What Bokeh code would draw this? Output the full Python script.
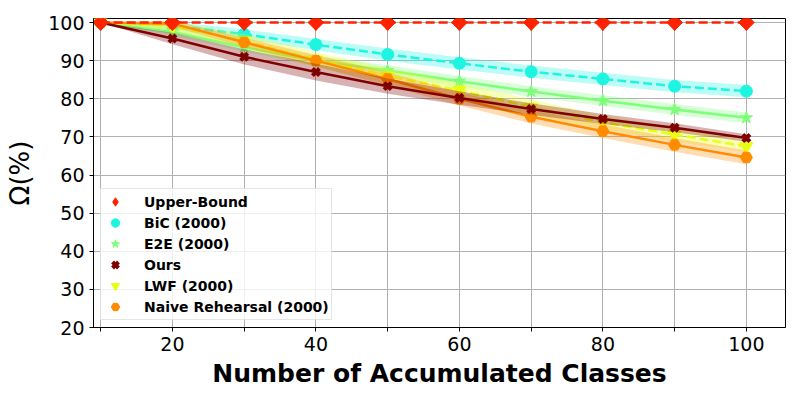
import math
from bokeh.plotting import figure
from bokeh.embed import file_html
from bokeh.resources import INLINE
from bokeh.models import Legend, LegendItem, FixedTicker, Range1d

classes = [10, 20, 30, 40, 50, 60, 70, 80, 90, 100]

upper = [100, 100, 100, 100, 100, 100, 100, 100, 100, 100]
bic = [100, 99.2, 96.9, 94.2, 91.6, 89.3, 87.1, 85.2, 83.3, 82.0]
e2e = [100, 97.5, 93.5, 90.0, 87.4, 84.6, 81.9, 79.5, 77.2, 75.0]
ours = [100, 95.8, 91.0, 87.0, 83.3, 80.2, 77.3, 74.7, 72.4, 69.7]
lwf = [100, 99.0, 95.2, 90.2, 86.0, 82.2, 77.8, 73.8, 70.6, 67.5]
naive = [100, 99.7, 94.8, 90.0, 85.2, 80.0, 75.3, 71.5, 67.9, 64.6]

bic_std = [0, 1.0, 1.3, 1.5, 1.6, 1.6, 1.6, 1.6, 1.6, 1.6]
e2e_std = [0, 1.0, 1.2, 1.3, 1.4, 1.4, 1.4, 1.4, 1.4, 1.4]
ours_std = [0, 1.5, 2.0, 2.2, 2.0, 1.8, 1.5, 1.3, 1.2, 1.0]
lwf_std = [0, 1.2, 1.8, 2.0, 2.0, 2.0, 2.0, 1.8, 1.8, 1.5]
naive_std = [0, 0.8, 1.2, 1.5, 1.8, 1.8, 1.8, 1.8, 1.8, 1.8]
upper_std = [0] * 10

labels = ["Upper-Bound", "BiC (2000)", "E2E (2000)", "Ours", "LWF (2000)", "Naive Rehearsal (2000)"]
x_ticks = [10, 20, 30, 40, 50, 60, 70, 80, 90, 100]
x_tick_labels = ["", "20", "", "40", "", "60", "", "80", "", "100"]
y_ticks = [20, 30, 40, 50, 60, 70, 80, 90, 100]

FONT = "DejaVu Sans"

p = figure(width=800, height=400, output_backend="svg", toolbar_location=None,
           x_range=Range1d(9.0, 105.45), y_range=Range1d(20, 101.05),
           min_border_left=93, min_border_right=15, min_border_top=18, min_border_bottom=73)

p.outline_line_color = "black"
p.outline_line_width = 1
p.background_fill_color = "white"

for ax in (p.xaxis[0], p.yaxis[0]):
    ax.major_label_text_font = FONT
    ax.major_label_text_font_size = "19px"
    ax.major_label_text_color = "black"
    ax.axis_line_color = "black"
    ax.major_tick_line_color = "black"
    ax.major_tick_out = 4
    ax.major_tick_in = 0
    ax.minor_tick_line_color = None
    ax.axis_label_text_color = "black"

p.xaxis.ticker = FixedTicker(ticks=x_ticks)
p.xaxis.major_label_overrides = {t: l for t, l in zip(x_ticks, x_tick_labels)}
p.yaxis.ticker = FixedTicker(ticks=y_ticks)
p.xaxis.axis_label = "Number of Accumulated Classes"
p.xaxis.axis_label_text_font = FONT
p.xaxis.axis_label_text_font_style = "bold"
p.xaxis.axis_label_text_font_size = "25px"
p.xaxis.axis_label_standoff = 5
p.yaxis.axis_label = "Ω(%)"
p.yaxis.axis_label_text_font = FONT
p.yaxis.axis_label_text_font_style = "normal"
p.yaxis.axis_label_text_font_size = "26px"
p.yaxis.axis_label_standoff = 10

p.xgrid.grid_line_color = "#b0b0b0"
p.ygrid.grid_line_color = "#b0b0b0"
p.xgrid.ticker = FixedTicker(ticks=x_ticks)
p.ygrid.ticker = FixedTicker(ticks=y_ticks)

series = [
    (upper, upper_std, "#ff2200", "dashed", "diamond", 16),
    (bic, bic_std, "#1ef5e0", "dashed", "circle", 12),
    (e2e, e2e_std, "#7dff7a", "solid", "star", 13),
    (ours, ours_std, "#7f0000", "solid", "x", 10),
    (lwf, lwf_std, "#e8ff14", "dashed", "inverted_triangle", 13),
    (naive, naive_std, "#ff8c00", "solid", "hex", 12),
]

order = [1, 2, 4, 5, 3, 0]
renderers = {}
for i in order:
    vals, std, color, dash, marker, size = series[i]
    lo = [v - s for v, s in zip(vals, std)]
    hi = [v + s for v, s in zip(vals, std)]
    if any(std):
        p.varea(x=classes, y1=lo, y2=hi, fill_color=color, fill_alpha=0.3)
    p.line(classes, vals, line_color=color, line_width=2.5,
           line_dash="9 4" if dash == "dashed" else "solid")
    if marker == "x":
        r = p.scatter(classes, vals, marker=marker, size=size, line_color=color,
                      line_width=4)
    else:
        r = p.scatter(classes, vals, marker=marker, size=size, fill_color=color,
                      line_color=color)
    if marker == "diamond":
        # widen the diamond with a rotated square on top
        p.scatter(classes, vals, marker="square", size=11, fill_color=color,
                  line_color=color, angle=math.pi / 4)
    renderers[i] = r

items = [LegendItem(label=labels[i], renderers=[renderers[i]]) for i in range(6)]

legend = Legend(items=items, location="bottom_left")
legend.label_text_font = FONT
legend.label_text_font_style = "bold"
legend.label_text_font_size = "14px"
legend.label_text_color = "black"
legend.border_line_color = "#cccccc"
legend.border_line_width = 1
legend.background_fill_alpha = 0.8
legend.glyph_width = 24
legend.glyph_height = 21
legend.label_height = 21
legend.spacing = 0
legend.padding = 2
legend.margin = 7
legend.label_standoff = 17
p.add_layout(legend)

open("out.html", "w").write(file_html(p, INLINE))
